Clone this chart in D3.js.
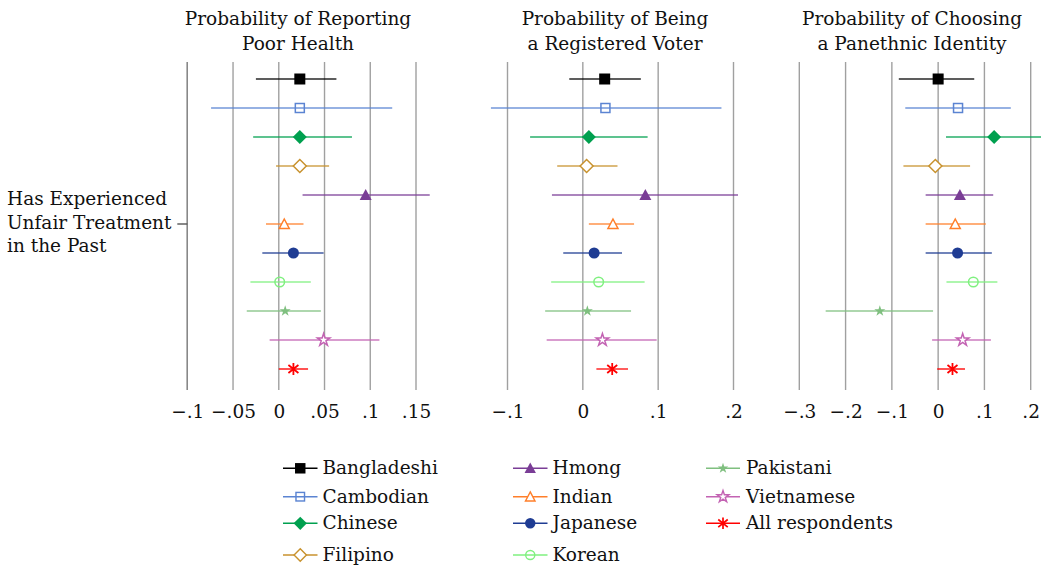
<!DOCTYPE html>
<html><head><meta charset="utf-8">
<script src="https://cdn.jsdelivr.net/npm/d3@7"></script>
<style>
html,body{margin:0;padding:0;background:#fff;}
svg{display:block;font-family:"DejaVu Serif",serif;}
</style></head>
<body><svg id="c" width="1041" height="567"></svg>
<script>
const groups = ["Bangladeshi","Cambodian","Chinese","Filipino","Hmong","Indian","Japanese","Korean","Pakistani","Vietnamese","All respondents"];
const colors = ["#000000","#5b84d2","#00a04f","#c8922e","#7a3d96","#ff7f2a","#1f3c93","#7ff07f","#7fbf7f","#c363b3","#ff0000"];
const symbols = ["squareF","squareO","diamondF","diamondO","triF","triO","circleF","circleO","starF","starO","cross"];

// Panel 1: Probability of reporting poor health
const healthEst = [0.023,0.023,0.023,0.023,0.095,0.006,0.016,0.001,0.007,0.049,0.016];
const healthLo  = [-0.025,-0.074,-0.028,-0.003,0.026,-0.014,-0.018,-0.031,-0.035,-0.010,0.000];
const healthHi  = [0.063,0.124,0.080,0.055,0.165,0.027,0.049,0.035,0.046,0.110,0.032];
// Panel 2: Probability of being a registered voter
const voterEst = [0.029,0.030,0.008,0.005,0.083,0.040,0.015,0.021,0.006,0.026,0.039];
const voterLo  = [-0.018,-0.122,-0.070,-0.034,-0.041,0.008,-0.026,-0.042,-0.050,-0.048,0.018];
const voterHi  = [0.077,0.184,0.086,0.046,0.206,0.068,0.052,0.082,0.064,0.098,0.060];
// Panel 3: Probability of choosing a panethnic identity
const panEst = [0.000,0.043,0.121,-0.006,0.047,0.037,0.042,0.076,-0.126,0.053,0.031];
const panLo  = [-0.085,-0.071,0.017,-0.075,-0.027,-0.027,-0.027,0.018,-0.243,-0.013,-0.002];
const panHi  = [0.078,0.157,0.225,0.069,0.119,0.103,0.116,0.128,-0.011,0.114,0.058];

const health_ticks = [-0.1,-0.05,0,0.05,0.1,0.15];
const voter_ticks = [-0.1,0,0.1,0.2];
const pan_ticks = [-0.3,-0.2,-0.1,0,0.1,0.2];

const titles = [["Probability of Reporting","Poor Health"],["Probability of Being","a Registered Voter"],["Probability of Choosing","a Panethnic Identity"]];
const yLabel = ["Has Experienced","Unfair Treatment","in the Past"];

const panels = [
  {est:healthEst, lo:healthLo, hi:healthHi, ticks:health_ticks, dom:[-0.1,0.15], rng:[187.3,416], tc:298, axis:true},
  {est:voterEst, lo:voterLo, hi:voterHi, ticks:voter_ticks, dom:[-0.1,0.2], rng:[507.5,733.5], tc:615, axis:false},
  {est:panEst, lo:panLo, hi:panHi, ticks:pan_ticks, dom:[-0.3,0.2], rng:[799.3,1030.7], tc:912, axis:false}
];

const svg = d3.select("#c");
const y = d3.scaleLinear().domain([0,10]).range([79,369]);
const fmt = v => { if (Math.abs(v)<1e-9) return "0"; let s = String(Math.abs(+v.toFixed(3))).replace(/^0/,""); return (v<0?"\u2212":"")+s; };
const FS = 18.5;

function drawSymbol(g, type, cx, cy, col, scale) {
  scale = scale || 1;
  const sw = 1.5;
  const s = g.append("g").attr("transform",`translate(${cx},${cy}) scale(${scale})`);
  switch(type) {
    case "squareF": s.append("rect").attr("x",-5.5).attr("y",-5.5).attr("width",11).attr("height",11).attr("fill",col); break;
    case "squareO": s.append("rect").attr("x",-4.5).attr("y",-4.5).attr("width",9).attr("height",9).attr("fill","none").attr("stroke",col).attr("stroke-width",sw); break;
    case "diamondF": s.append("path").attr("d","M0,-7L7,0L0,7L-7,0Z").attr("fill",col); break;
    case "diamondO": s.append("path").attr("d","M0,-6.5L6.5,0L0,6.5L-6.5,0Z").attr("fill","#fff").attr("stroke",col).attr("stroke-width",sw); break;
    case "triF": s.append("path").attr("d","M0,-6L6,5L-6,5Z").attr("fill",col); break;
    case "triO": s.append("path").attr("d","M0,-5L5,4.5L-5,4.5Z").attr("fill","#fff").attr("stroke",col).attr("stroke-width",sw); break;
    case "circleF": s.append("circle").attr("r",5.5).attr("fill",col); break;
    case "circleO": s.append("circle").attr("r",4.8).attr("fill","none").attr("stroke",col).attr("stroke-width",sw); break;
    case "starF": s.append("path").attr("d",d3.symbol(d3.symbolStar,38)()).attr("fill",col); break;
    case "starO": s.append("path").attr("d",d3.symbol(d3.symbolStar,48)()).attr("fill","#fff").attr("stroke",col).attr("stroke-width",sw); break;
    case "cross":
      s.append("path").attr("d","M-5,-4L5,4M5,-4L-5,4M0,-6L0,6").attr("stroke",col).attr("stroke-width",1.8).attr("fill","none"); break;
  }
}

panels.forEach((p,pi) => {
  const x = d3.scaleLinear().domain(p.dom).range(p.rng);
  const g = svg.append("g");
  g.selectAll("line.grid").data(p.ticks).enter().append("line")
    .attr("x1",d=>x(d)).attr("x2",d=>x(d)).attr("y1",62).attr("y2",390)
    .attr("stroke","#a0a0a0").attr("stroke-width",1.4);
  const ax = g.append("g").attr("transform","translate(0,400)")
    .call(d3.axisBottom(x).tickValues(p.ticks).tickFormat(fmt).tickSize(0).tickPadding(5));
  ax.select(".domain").remove();
  ax.selectAll("text").attr("font-size",FS).attr("font-family","DejaVu Serif, serif").attr("fill","#111");
  const t = svg.append("text").attr("text-anchor","middle").attr("font-size",FS).attr("fill","#111");
  titles[pi].forEach((line,li)=> t.append("tspan").attr("x",p.tc).attr("y",25+li*25).text(line));
  if (p.axis) {
    g.append("line").attr("x1",x(p.dom[0])).attr("x2",x(p.dom[0])).attr("y1",62).attr("y2",390).attr("stroke","#888").attr("stroke-width",1.4);
    g.append("line").attr("x1",x(p.dom[0])-10).attr("x2",x(p.dom[0])).attr("y1",y(5)).attr("y2",y(5)).attr("stroke","#555").attr("stroke-width",1.4);
  }
  groups.forEach((name,i) => {
    g.append("line").attr("x1",x(p.lo[i])).attr("x2",x(p.hi[i])).attr("y1",y(i)).attr("y2",y(i))
      .attr("stroke",colors[i]).attr("stroke-width",1.6).attr("stroke-opacity",0.85);
    drawSymbol(g, symbols[i], x(p.est[i]), y(i), colors[i]);
  });
});

const yl = svg.append("text").attr("font-size",FS).attr("fill","#111");
yLabel.forEach((line,li)=> yl.append("tspan").attr("x",7).attr("y",205+li*23.5).text(line));

const legCols = [{x1:283,x2:317.5,tx:322.5},{x1:513,x2:547.5,tx:552.5},{x1:706,x2:740,tx:746}];
const legRows = [468.3,496.7,523.3,555];
const legPos = [[0,0],[0,1],[0,2],[0,3],[1,0],[1,1],[1,2],[1,3],[2,0],[2,1],[2,2]];
const leg = svg.append("g");
groups.forEach((name,i)=>{
  const c = legCols[legPos[i][0]], ry = legRows[legPos[i][1]];
  leg.append("line").attr("x1",c.x1).attr("x2",c.x2).attr("y1",ry).attr("y2",ry).attr("stroke",colors[i]).attr("stroke-width",1.6);
  drawSymbol(leg, symbols[i], (c.x1+c.x2)/2, ry, colors[i], 0.95);
  leg.append("text").attr("x",c.tx).attr("y",ry+6).attr("font-size",FS).attr("fill","#111").text(name);
});
</script></body></html>
